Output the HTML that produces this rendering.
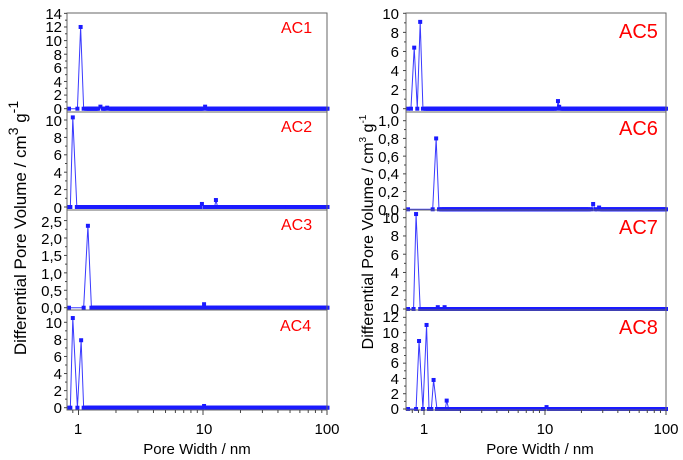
<!DOCTYPE html>
<html><head><meta charset="utf-8"><style>
html,body{margin:0;padding:0;background:#fff;}
svg{display:block;font-family:"Liberation Sans",Arial,sans-serif;}
.t{font-size:15px;fill:#000;}
.lab{fill:#ff0000;}
</style></head><body>
<svg id="s" width="683" height="460" viewBox="0 0 683 460" xmlns="http://www.w3.org/2000/svg">
<g id="g"></g>
<g class="t" text-anchor="end">
<text x="62" y="19">14</text><text x="62" y="32">12</text><text x="62" y="46">10</text><text x="62" y="60">8</text><text x="62" y="73">6</text><text x="62" y="87">4</text><text x="62" y="100">2</text><text x="62" y="114">0</text>
<text x="62" y="126">10</text><text x="62" y="143">8</text><text x="62" y="160">6</text><text x="62" y="178">4</text><text x="62" y="195">2</text><text x="62" y="213">0</text>
<text x="62" y="227">2,5</text><text x="62" y="244">2,0</text><text x="62" y="261">1,5</text><text x="62" y="279">1,0</text><text x="62" y="296">0,5</text><text x="62" y="313">0,0</text>
<text x="62" y="328">10</text><text x="62" y="345">8</text><text x="62" y="362">6</text><text x="62" y="379">4</text><text x="62" y="396">2</text><text x="62" y="413">0</text>
</g>
<g class="t" text-anchor="end">
<text x="399" y="19">10</text><text x="399" y="38">8</text><text x="399" y="57">6</text><text x="399" y="76">4</text><text x="399" y="95">2</text><text x="399" y="114">0</text>
<text x="399" y="126">1,0</text><text x="399" y="144">0,8</text><text x="399" y="162">0,6</text><text x="399" y="179">0,4</text><text x="399" y="197">0,2</text><text x="399" y="215">0,0</text>
<text x="399" y="223">10</text><text x="399" y="241">8</text><text x="399" y="260">6</text><text x="399" y="278">4</text><text x="399" y="296">2</text><text x="399" y="314">0</text>
<text x="399" y="322">12</text><text x="399" y="338">10</text><text x="399" y="353">8</text><text x="399" y="368">6</text><text x="399" y="384">4</text><text x="399" y="399">2</text><text x="399" y="414">0</text>
</g>
<g class="t" text-anchor="middle">
<text x="78" y="434">1</text><text x="204" y="434">10</text><text x="327" y="434">100</text>
<text x="424" y="434">1</text><text x="545" y="434">10</text><text x="666" y="434">100</text>
</g>
<text class="t" x="197" y="454" text-anchor="middle">Pore Width / nm</text>
<text class="t" x="540" y="454" text-anchor="middle">Pore Width / nm</text>
<text fill="#000" font-size="17" transform="translate(26,228) rotate(-90)" text-anchor="middle">Differential Pore Volume / cm<tspan dy="-8" font-size="14">3</tspan><tspan dy="8"> g</tspan><tspan dy="-8" font-size="14">-1</tspan></text>
<text fill="#000" font-size="16" transform="translate(373,232) rotate(-90)" text-anchor="middle">Differential Pore Volume / cm<tspan dy="-7" font-size="10">3</tspan><tspan dy="7"> g</tspan><tspan dy="-7" font-size="10">-1</tspan></text>
<g class="lab" font-size="16">
<text x="281" y="33">AC1</text><text x="281" y="132">AC2</text><text x="281" y="230">AC3</text><text x="280" y="331">AC4</text>
</g>
<g class="lab" font-size="20">
<text x="619" y="38">AC5</text><text x="619" y="135">AC6</text><text x="619" y="234">AC7</text><text x="619" y="334">AC8</text>
</g>
</svg>
<script>
var g=document.getElementById('g');var NS='http://www.w3.org/2000/svg';
function el(n,a){var e=document.createElementNS(NS,n);for(var k in a)e.setAttribute(k,a[k]);g.appendChild(e);return e;}
var L={x0:67,x1:327,one:78.5,dec:124.5},R={x0:406,x1:666,one:424,dec:121};
var panels=[
{s:L,top:13,bot:112,z:108.7,u:6.81,ticks:[0,2,4,6,8,10,12,14],pk:[[0.98,0],[1.04,12],[1.1,0],[1.5,0.3],[1.7,0.15],[10.4,0.3]]},
{s:L,top:112,bot:210,z:207,u:8.7,ticks:[0,2,4,6,8,10],pk:[[0.86,0],[0.9,10.3],[0.97,0],[9.8,0.35],[10.3,0],[12.4,0],[12.7,0.8],[13.1,0]]},
{s:L,top:210,bot:310,z:307.7,u:34.85,ticks:[0,0.5,1,1.5,2,2.5],pk:[[1.1,0],[1.19,2.35],[1.27,0],[10.2,0.1]]},
{s:L,top:310,bot:410,z:407.7,u:8.54,ticks:[0,2,4,6,8,10],pk:[[0.86,0],[0.9,10.5],[0.98,0],[1.05,7.9],[1.1,0],[10.2,0.2]]},
{s:R,top:13,bot:112,z:108.7,u:9.54,ticks:[0,2,4,6,8,10],pk:[[0.78,0],[0.83,6.4],[0.88,0],[0.93,9.1],[0.98,0],[12.6,0],[12.8,0.8],[13.1,0.2]]},
{s:R,top:112,bot:210,z:209.3,u:88.6,ticks:[0,0.2,0.4,0.6,0.8,1],pk:[[1.18,0],[1.26,0.8],[1.33,0],[24,0],[25,0.06],[26,0],[28,0.02]]},
{s:R,top:210,bot:310,z:309,u:9.13,ticks:[0,2,4,6,8,10],pk:[[0.82,0],[0.86,10.4],[0.93,0],[1.3,0.2],[1.48,0.2]]},
{s:R,top:310,bot:410,z:409,u:7.64,ticks:[0,2,4,6,8,10,12],pk:[[0.86,0],[0.91,8.9],[0.98,0],[1.05,11],[1.1,0],[1.15,0],[1.2,3.8],[1.28,0],[1.5,0],[1.54,1.1],[1.6,0],[10.3,0.25]]}
];
panels.forEach(function(p){
 var s=p.s;
 function X(v){return s.one+Math.log10(v)*s.dec;}
 function Y(v){return p.z-v*p.u;}
 var pts=[];
 pts.push([Math.pow(10,(s.x0+2-s.one)/s.dec),0]);
 p.pk.forEach(function(q){pts.push(q);});
 var startDense=p.pk[0][0]*1.15;
 for(var i=0;i<260;i++){var v=Math.pow(10,Math.log10(startDense)+i*(2-Math.log10(startDense))/259);
  var near=false;p.pk.forEach(function(q){if(Math.abs(Math.log10(v/q[0]))<0.012)near=true;});
  if(!near)pts.push([v,0]);}
 pts.sort(function(a,b){return a[0]-b[0];});
 var d=pts.map(function(q,i){return (i?'L':'M')+X(q[0]).toFixed(2)+' '+Y(q[1]).toFixed(2);}).join('');
 el('path',{d:d,fill:'none',stroke:'#3a3aff','stroke-width':'1'});
 pts.forEach(function(q){el('rect',{x:X(q[0])-2,y:Y(q[1])-2,width:4,height:4,fill:'#1a1aff'});});
 el('rect',{x:s.x0,y:p.top,width:s.x1-s.x0,height:p.bot-p.top,fill:'none',stroke:'#666','stroke-width':'1'});
 for(var j=0;j<p.ticks.length;j++){var t=p.ticks[j],y=Y(t);
  if(y<p.top-1)continue;
  el('line',{x1:s.x0-3,x2:s.x0,y1:y,y2:y,stroke:'#444'});
  if(j+1<p.ticks.length){var ym=Y((t+p.ticks[j+1])/2);if(ym>p.top)el('line',{x1:s.x0-2,x2:s.x0,y1:ym,y2:ym,stroke:'#444'});}
 }
});
[L,R].forEach(function(s){
 for(var e=-1;e<2;e++)for(var m=1;m<10;m++){var v=m*Math.pow(10,e);var x=s.one+Math.log10(v)*s.dec;
  if(x<s.x0-0.5||x>s.x1+0.5)continue;el('line',{x1:x,x2:x,y1:410,y2:m==1?415:413,stroke:'#444'});}
 el('line',{x1:s.x1,x2:s.x1,y1:410,y2:415,stroke:'#444'});
});
</script>
</body></html>
